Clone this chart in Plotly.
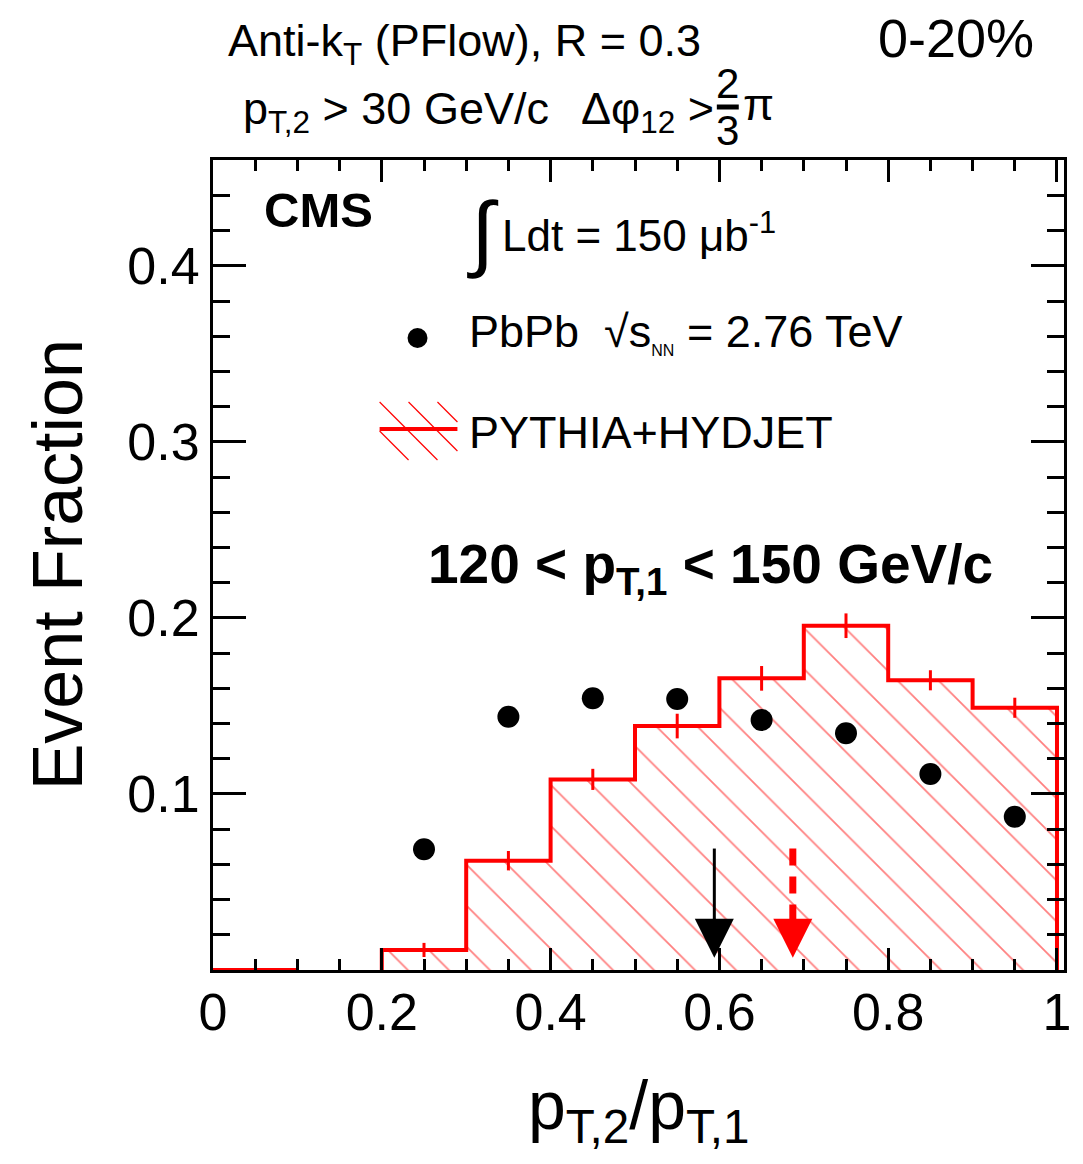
import plotly.graph_objects as go

# ---------------- data ----------------
bin_edges = [0.0, 0.1, 0.2, 0.3, 0.4, 0.5, 0.6, 0.7, 0.8, 0.9, 1.0]
mc_values = [0.0, 0.0, 0.0114, 0.0621, 0.1083, 0.1386, 0.1657, 0.1956, 0.1646, 0.1490]
mc_errors = [0.0, 0.0, 0.004, 0.0055, 0.006, 0.007, 0.007, 0.007, 0.0057, 0.0057]

data_x = [0.25, 0.35, 0.45, 0.55, 0.65, 0.75, 0.85, 0.95]
data_y = [0.0686, 0.1439, 0.1544, 0.1540, 0.1420, 0.1345, 0.1114, 0.0871]

data_mean = 0.594
mc_mean = 0.687
arrow_top = 0.069
arrow_tip = 0.007
head_len = 0.019

x_ticks = [0, 0.2, 0.4, 0.6, 0.8, 1]
x_ticktext = ["0", "0.2", "0.4", "0.6", "0.8", "1"]
y_ticks = [0.1, 0.2, 0.3, 0.4]
y_ticktext = ["0.1", "0.2", "0.3", "0.4"]

FONT = "Liberation Sans, Arial, Helvetica, sans-serif"
RED = "#ff0000"

# plot-area geometry in pixels
L, R, T, B = 213, 1066, 160, 970


def px(X):
    return (X - L) / (R - L)


def py(Y):
    return (B - Y) / (B - T)


fig = go.Figure()

# ---- histogram (first filled bin onward) ----
first = 2
e = bin_edges[first:]
v = mc_values[first:]
step_x = [e[0]] + e[:-1] + [e[-1]]
step_y = [0] + v + [0]
fig.add_trace(go.Scatter(
    x=step_x, y=step_y, mode="lines", line=dict(color=RED, width=4, shape="hv"),
    fill="tozeroy", fillcolor="rgba(255,255,255,0)",
    fillpattern=dict(shape="\\", fgcolor=RED, bgcolor="rgba(255,255,255,0)",
                     size=29, solidity=0.06, fillmode="overlay"),
    hoverinfo="skip", showlegend=False))

# zero bin drawn along baseline
fig.add_trace(go.Scatter(
    x=[bin_edges[0], bin_edges[1]], y=[mc_values[0], mc_values[0]], mode="lines",
    line=dict(color=RED, width=4), showlegend=False, hoverinfo="skip"))

# MC error bars
centers = [(bin_edges[i] + bin_edges[i + 1]) / 2 for i in range(first, len(mc_values))]
fig.add_trace(go.Scatter(
    x=centers, y=mc_values[first:], mode="markers",
    marker=dict(size=1, color=RED),
    error_y=dict(type="data", array=mc_errors[first:], color=RED, thickness=3, width=0),
    showlegend=False, hoverinfo="skip"))

# data points
fig.add_trace(go.Scatter(
    x=data_x, y=data_y, mode="markers",
    marker=dict(size=22, color="black"), showlegend=False))

# arrow shafts
fig.add_trace(go.Scatter(
    x=[data_mean, data_mean], y=[arrow_top, arrow_tip + head_len], mode="lines",
    line=dict(color="black", width=3), showlegend=False, hoverinfo="skip"))
fig.add_trace(go.Scatter(
    x=[mc_mean, mc_mean], y=[arrow_top, arrow_tip + head_len], mode="lines",
    line=dict(color=RED, width=7, dash="17px,11px"), showlegend=False, hoverinfo="skip"))

annotations = []
# arrow heads
for xm, col in [(data_mean, "black"), (mc_mean, RED)]:
    annotations.append(dict(
        x=xm, y=arrow_tip, ax=xm, ay=arrow_tip + head_len + 0.004,
        xref="x", yref="y", axref="x", ayref="y", text="", showarrow=True,
        arrowhead=2, arrowsize=2.6, arrowwidth=3, arrowcolor=col))


def txt(text, X, Y, size, bold=False, xanchor="left", yanchor="middle", angle=0):
    if bold:
        text = "<b>" + text + "</b>"
    annotations.append(dict(
        x=px(X), y=py(Y), xref="paper", yref="paper", text=text, showarrow=False,
        xanchor=xanchor, yanchor=yanchor, textangle=angle,
        font=dict(family=FONT, size=size, color="black")))


txt("Anti-k<sub>T</sub> (PFlow), R = 0.3", 226, 44, 45)
txt("0-20%", 878, 38, 54)
txt("p<sub>T,2</sub> > 30 GeV/c", 241, 112, 45)
txt("Δφ<sub>12</sub> >", 580, 112, 45)
txt("2", 729, 84, 42, xanchor="center")
txt("3", 729, 130, 42, xanchor="center")
txt("π", 742, 104, 45)
txt("CMS", 262, 210, 49, bold=True)
txt("∫", 466, 232, 84)
txt("Ldt = 150 μb<sup>-1</sup>", 501, 232, 44)
txt("PbPb  √s<sub><span style='font-size:16px'>NN</span></sub> = 2.76 TeV", 468, 332, 45)
txt("PYTHIA+HYDJET", 468, 432, 45)
txt("120 &lt; p<sub>T,1</sub> &lt; 150 GeV/c", 426, 568, 55, bold=True)
txt("p<sub>T,2</sub>/p<sub>T,1</sub>", 640, 1110, 68, xanchor="center")
txt("Event Fraction", 58, 565, 70, xanchor="center", angle=-90)

shapes = []
# legend: data dot
shapes.append(dict(type="circle", xref="paper", yref="paper",
                   x0=px(408), x1=px(428), y0=py(348), y1=py(328),
                   fillcolor="black", line=dict(width=0)))
# legend: hatched box with line
bx0, bx1, by0, by1 = 380, 458, 402, 460
spacing = 29
c = bx0 - by1
while c < bx1 - by0:
    pts = []
    for Y in (by0, by1):
        X = Y + c
        if bx0 <= X <= bx1:
            pts.append((X, Y))
    for X in (bx0, bx1):
        Y = X - c
        if by0 <= Y <= by1:
            pts.append((X, Y))
    pts = sorted(set(pts))
    if len(pts) >= 2:
        (xa, ya), (xb, yb) = pts[0], pts[-1]
        shapes.append(dict(type="line", xref="paper", yref="paper",
                           x0=px(xa), y0=py(ya), x1=px(xb), y1=py(yb),
                           line=dict(color=RED, width=1.2)))
    c += spacing
shapes.append(dict(type="line", xref="paper", yref="paper",
                   x0=px(380), x1=px(458), y0=py(429), y1=py(429),
                   line=dict(color=RED, width=4)))
# fraction bar
shapes.append(dict(type="line", xref="paper", yref="paper",
                   x0=px(718), x1=px(740), y0=py(107), y1=py(107),
                   line=dict(color="black", width=5)))

axis_common = dict(
    showline=True, linecolor="black", linewidth=3, mirror="allticks",
    ticks="inside", tickwidth=3, tickcolor="black", showgrid=False, zeroline=False,
    tickfont=dict(family=FONT, size=52, color="black"),
)

fig.update_layout(
    width=1083, height=1164, autosize=False,
    margin=dict(l=L, r=1083 - R, t=T, b=1164 - B),
    paper_bgcolor="white", plot_bgcolor="white",
    showlegend=False,
    xaxis=dict(range=[0, 1.0083], tickvals=x_ticks, ticktext=x_ticktext, ticklen=22,
               minor=dict(dtick=0.05, ticklen=11, tickwidth=3, tickcolor="black", ticks="inside"),
               ticklabelstandoff=-5, **axis_common),
    yaxis=dict(range=[0, 0.4602], tickvals=y_ticks, ticktext=y_ticktext, ticklen=33,
               minor=dict(dtick=0.02, ticklen=17, tickwidth=3, tickcolor="black", ticks="inside"),
               ticklabelstandoff=0, **axis_common),
    annotations=annotations, shapes=shapes,
)

fig.write_html("out.html")
